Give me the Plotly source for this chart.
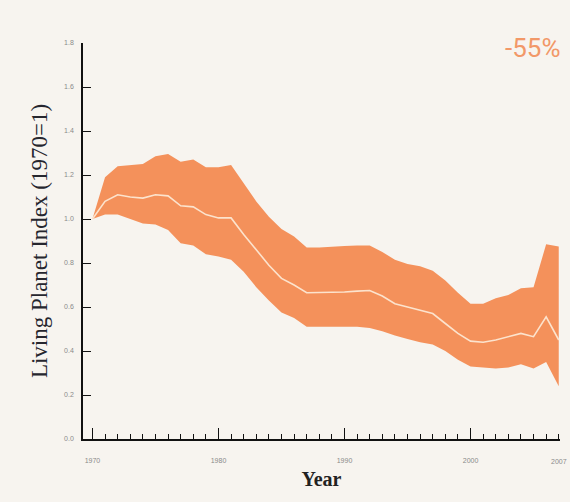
import plotly.graph_objects as go

years = list(range(1970, 2008))
upper = [1.00, 1.19, 1.24, 1.245, 1.25, 1.285, 1.295, 1.26, 1.27, 1.235,
         1.235, 1.245, 1.16, 1.08, 1.01, 0.955, 0.92, 0.87, 0.87, 0.875,
         0.877, 0.88, 0.88, 0.85, 0.815, 0.795, 0.785, 0.765, 0.72, 0.665,
         0.615, 0.615, 0.64, 0.655, 0.685, 0.69, 0.885, 0.875]
mean = [1.00, 1.08, 1.11, 1.10, 1.095, 1.11, 1.105, 1.06, 1.055, 1.02,
        1.005, 1.005, 0.93, 0.86, 0.79, 0.73, 0.70, 0.665, 0.665, 0.665,
        0.668, 0.672, 0.675, 0.65, 0.615, 0.60, 0.585, 0.57, 0.525, 0.48,
        0.445, 0.44, 0.45, 0.465, 0.48, 0.465, 0.555, 0.45]
lower = [1.00, 1.02, 1.02, 1.00, 0.98, 0.975, 0.95, 0.89, 0.88, 0.84,
         0.83, 0.815, 0.76, 0.69, 0.63, 0.575, 0.55, 0.51, 0.51, 0.51,
         0.51, 0.51, 0.505, 0.49, 0.47, 0.455, 0.44, 0.43, 0.40, 0.36,
         0.33, 0.325, 0.32, 0.325, 0.34, 0.32, 0.35, 0.24]

BG = "#F7F4EF"
ORANGE = "#F4915B"

W, H = 570, 502
L, R, T, B = 83, 10, 43, 63
pw, ph = W - L - R, H - T - B

fig = go.Figure()
fig.add_trace(go.Scatter(
    x=years + years[::-1], y=upper + lower[::-1],
    fill="toself", fillcolor=ORANGE, line=dict(width=0),
    mode="lines", hoverinfo="skip", showlegend=False))
fig.add_trace(go.Scatter(
    x=years, y=mean, mode="lines",
    line=dict(color="#FCE3CD", width=1.6), showlegend=False))

fig.update_layout(
    width=W, height=H,
    paper_bgcolor=BG, plot_bgcolor=BG,
    margin=dict(l=L, r=R, t=T, b=B),
    xaxis=dict(
        range=[1969.25, 2007.1], tickmode="linear", tick0=1970, dtick=10,
        ticks="inside", ticklen=11, tickwidth=1.3, tickcolor="#111",
        minor=dict(tickmode="linear", tick0=1970, dtick=1, ticks="inside",
                   ticklen=5, tickwidth=1.2, tickcolor="#111"),
        showline=True, linecolor="#111", linewidth=1.6,
        showgrid=False, zeroline=False,
        tickfont=dict(family="Liberation Sans", size=7, color="#8a8a8a"),
        ticklabelstandoff=14,
        title=dict(text="<b>Year</b>", standoff=9,
                   font=dict(family="Liberation Serif", size=20, color="#222222")),
    ),
    yaxis=dict(
        range=[0, 1.8], tickmode="linear", tick0=0, dtick=0.2, tickformat=".1f",
        ticks="inside", ticklen=8, tickwidth=1.3, tickcolor="#111",
        showline=True, linecolor="#111", linewidth=1.6,
        showgrid=False, zeroline=False,
        tickfont=dict(family="Liberation Sans", size=7, color="#8a8a8a"),
        ticklabelstandoff=6,
        title=dict(text="Living Planet Index (1970=1)", standoff=10,
                   font=dict(family="Liberation Serif", size=23, color="#26262e")),
    ),
    annotations=[
        dict(text="2007", x=2007, y=0, xref="x", yref="paper", yshift=-28,
             xanchor="center", showarrow=False,
             font=dict(family="Liberation Sans", size=7, color="#8a8a8a")),
        dict(text="-55%", x=(532 - L) / pw, y=(H - B - 48) / ph,
             xref="paper", yref="paper", xanchor="center", yanchor="middle",
             showarrow=False,
             font=dict(family="Roboto", size=26, color="#F29868")),
    ],
)

fig.write_html(
    "out.html",
    config={"displayModeBar": False},
    post_script="document.body.style.margin='0';"
                "document.body.style.background='#F7F4EF';",
)
